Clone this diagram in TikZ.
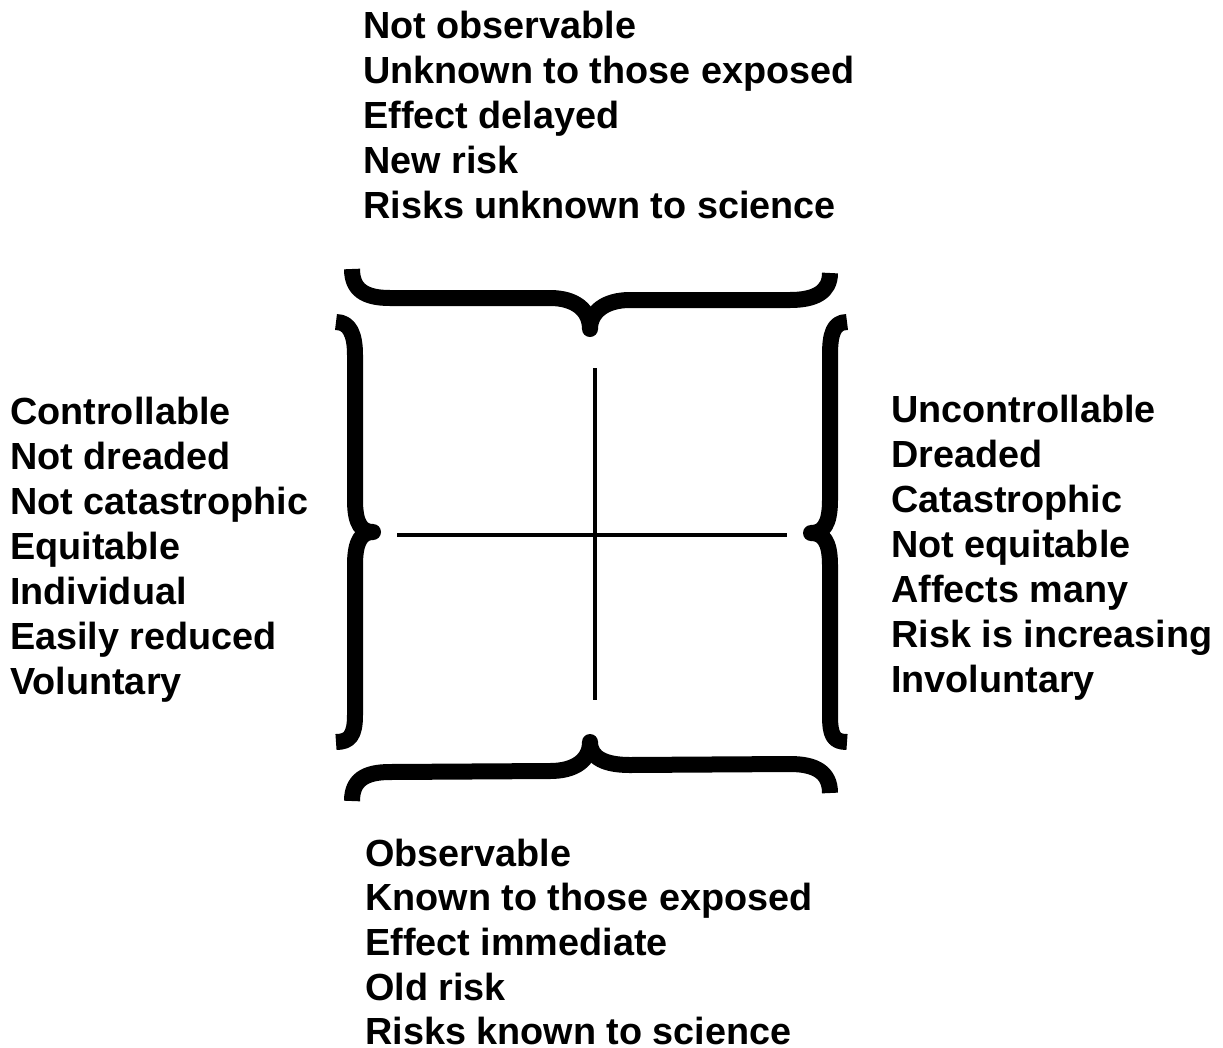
\documentclass[tikz,border=0pt]{standalone}
\usepackage{fontspec}
\setmainfont{Liberation Sans}
\begin{document}
\begin{tikzpicture}[x=1pt,y=-1pt,
  lbl/.style={anchor=base west,inner sep=0pt,font=\bfseries\fontsize{37.8}{45}\selectfont},
  bracestroke/.style={line width=16pt,line cap=butt,line join=round},
  crossline/.style={line width=4pt}]
\useasboundingbox[fill=white] (0,0) rectangle (1223,1047);
% top block
\node[lbl] (t1) at (363,38) {Not observable};
\node[lbl] (t2) at (363,83) {Unknown to those exposed};
\node[lbl] (t3) at (363,128) {Effect delayed};
\node[lbl] (t4) at (363,173) {New risk};
\node[lbl] (t5) at (363,218) {Risks unknown to science};
% left block
\node[lbl] (l1) at (10,424) {Controllable};
\node[lbl] (l2) at (10,469) {Not dreaded};
\node[lbl] (l3) at (10,514) {Not catastrophic};
\node[lbl] (l4) at (10,559) {Equitable};
\node[lbl] (l5) at (10,604) {Individual};
\node[lbl] (l6) at (10,649) {Easily reduced};
\node[lbl] (l7) at (10,694) {Voluntary};
% right block
\node[lbl] (r1) at (891,422) {Uncontrollable};
\node[lbl] (r2) at (891,467) {Dreaded};
\node[lbl] (r3) at (891,512) {Catastrophic};
\node[lbl] (r4) at (891,557) {Not equitable};
\node[lbl] (r5) at (891,602) {Affects many};
\node[lbl] (r6) at (891,647) {Risk is increasing};
\node[lbl] (r7) at (891,692) {Involuntary};
% bottom block
\node[lbl] (b1) at (365,866) {Observable};
\node[lbl] (b2) at (365,910) {Known to those exposed};
\node[lbl] (b3) at (365,955) {Effect immediate};
\node[lbl] (b4) at (365,1000) {Old risk};
\node[lbl] (b5) at (365,1044) {Risks known to science};
% cross
\coordinate (vt) at (595,368);
\coordinate (vb) at (595,700);
\coordinate (hl) at (397,535);
\coordinate (hr) at (787,535);
\draw[crossline] (vt) -- (vb);
\draw[crossline] (hl) -- (hr);
% top brace
\draw[bracestroke] (352,269) .. controls (352,290) and (365,298) .. (390,298) -- (550,298) .. controls (575,298) and (590,310) .. (590,329);
\draw[bracestroke] (590,329) .. controls (590,312) and (605,300) .. (630,300) -- (790,300) .. controls (815,300) and (830,292) .. (830,273);
\fill (590,329) circle (8);
% bottom brace
\draw[bracestroke] (352,801) .. controls (352,780) and (365,772) .. (390,772) -- (550,771) .. controls (575,771) and (590,760) .. (590,742);
\draw[bracestroke] (590,742) .. controls (590,758) and (605,765) .. (630,765) -- (790,764) .. controls (815,764) and (830,772) .. (830,793);
\fill (590,742) circle (8);
% left brace
\draw[bracestroke] (336,322) .. controls (350,322) and (355,335) .. (355,355) -- (355,500) .. controls (355,525) and (362,532) .. (373,532);
\draw[bracestroke] (373,532) .. controls (362,532) and (355,540) .. (355,565) -- (355,715) .. controls (355,735) and (350,742) .. (336,742);
\fill (373,532) circle (8);
% right brace
\draw[bracestroke] (847,322) .. controls (833,322) and (830,335) .. (830,355) -- (830,500) .. controls (830,525) and (823,533) .. (811,533);
\draw[bracestroke] (811,533) .. controls (823,533) and (830,541) .. (830,565) -- (830,715) .. controls (830,735) and (833,742) .. (847,742);
\fill (811,533) circle (8);
\end{tikzpicture}
\end{document}
